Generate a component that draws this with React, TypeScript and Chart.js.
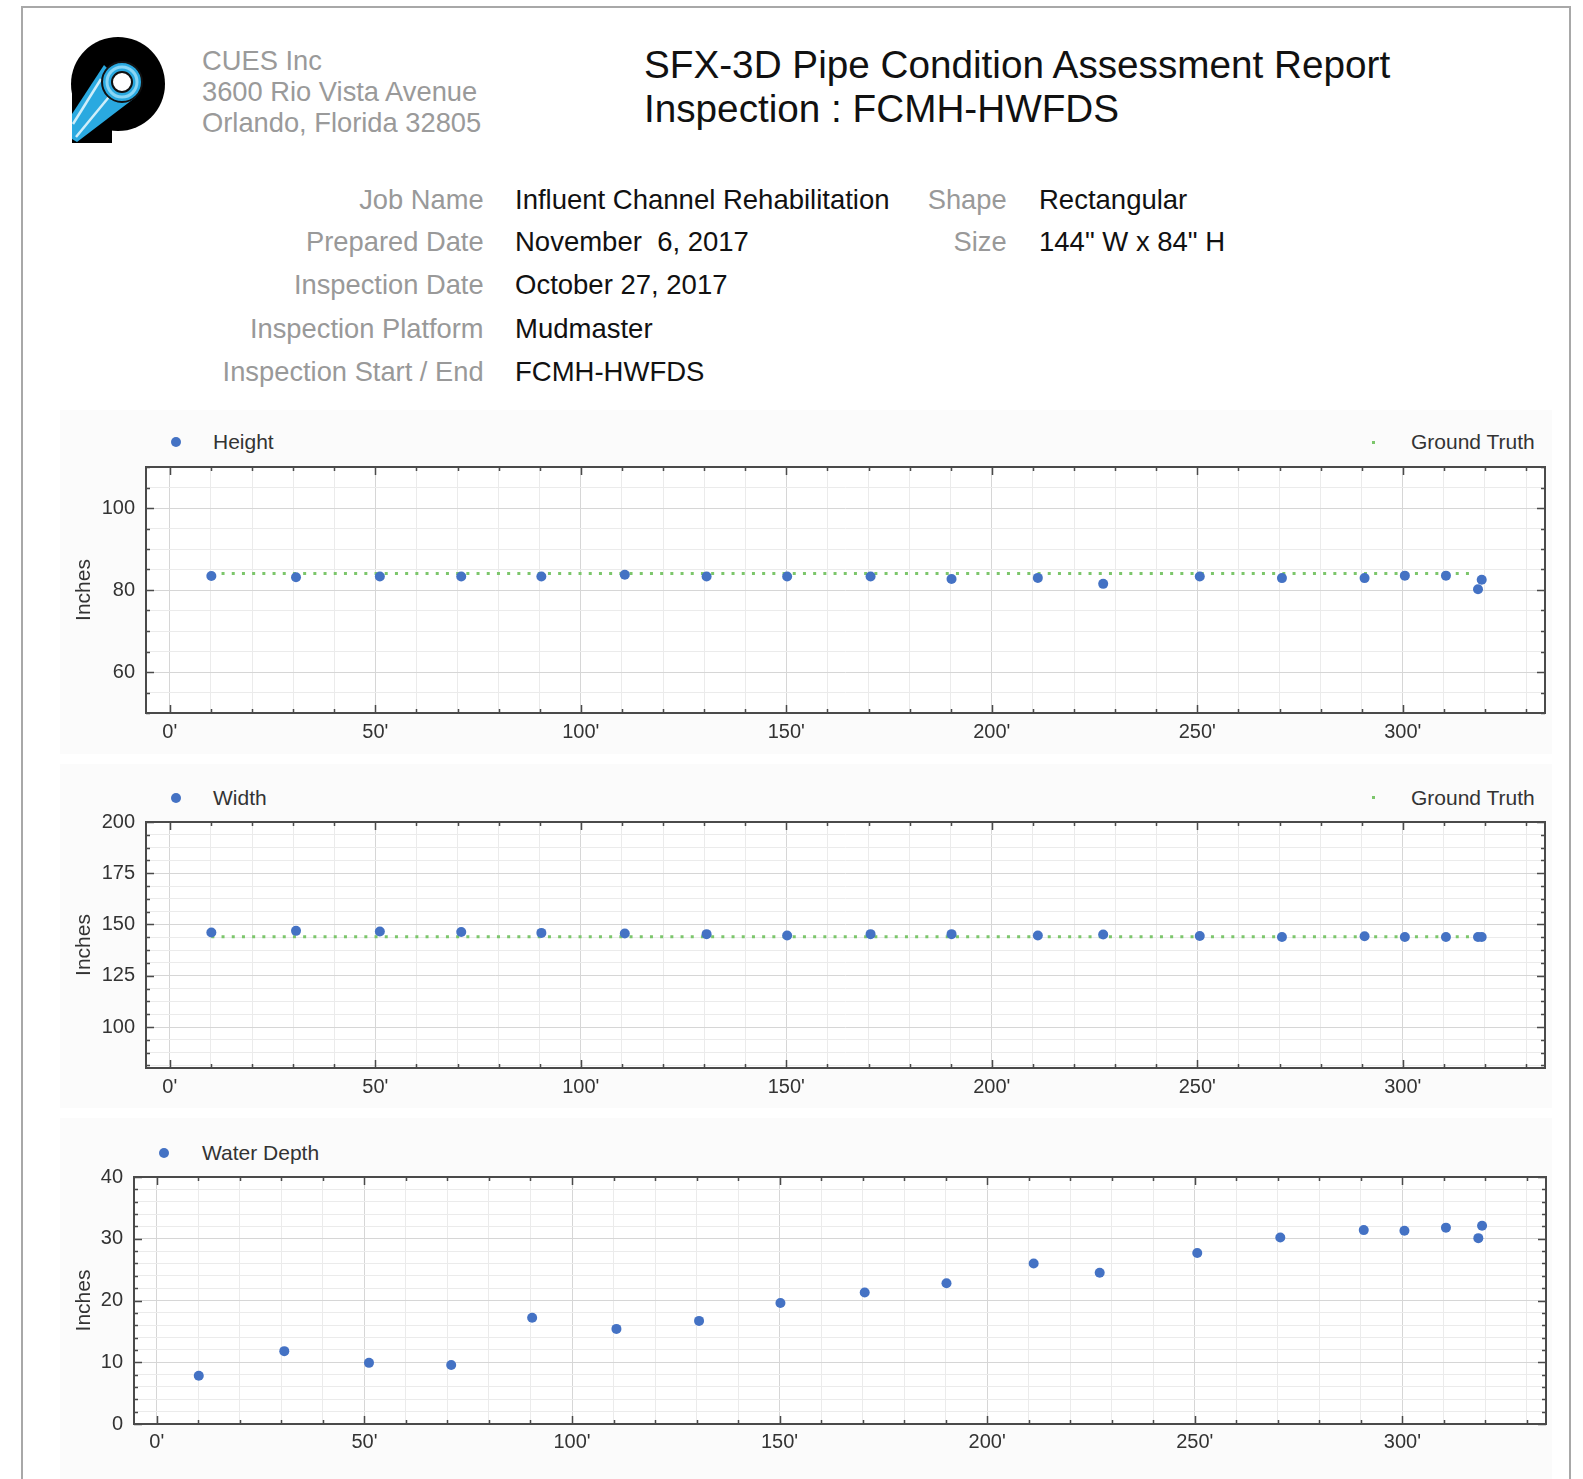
import React, { useEffect, useRef } from 'react';
import { Chart, registerables } from 'chart.js';

Chart.register(...registerables);

// ---------- Data ----------
const DISTANCE_FT = [10.1, 30.7, 51.1, 70.9, 90.4, 110.7, 130.6, 150.2, 170.5, 190.2, 211.2, 227.1, 250.6, 270.6, 290.7, 300.5, 310.5, 318.3, 319.2];
const HEIGHT_IN = [83.4, 83.1, 83.3, 83.3, 83.3, 83.7, 83.3, 83.3, 83.3, 82.7, 82.95, 81.5, 83.3, 82.9, 82.9, 83.5, 83.5, 80.2, 82.5];
const WIDTH_IN = [146.1, 146.9, 146.6, 146.3, 145.9, 145.6, 145.3, 144.6, 145.3, 145.3, 144.6, 145.1, 144.4, 143.9, 144.3, 143.9, 143.9, 143.9, 143.9];
const WATER_DEPTH_IN = [7.8, 11.8, 9.9, 9.55, 17.2, 15.4, 16.7, 19.6, 21.3, 22.8, 26.0, 24.5, 27.7, 30.2, 31.4, 31.3, 31.8, 30.1, 32.1];
const GROUND_TRUTH_HEIGHT_IN = 84;
const GROUND_TRUTH_WIDTH_IN = 144;
const GROUND_TRUTH_SPAN_FT = [10.1, 317];

const INFO_LEFT_LABELS = ['Job Name', 'Prepared Date', 'Inspection Date', 'Inspection Platform', 'Inspection Start / End'];
const INFO_LEFT_VALUES = ['Influent Channel Rehabilitation', 'November  6, 2017', 'October 27, 2017', 'Mudmaster', 'FCMH-HWFDS'];
const INFO_RIGHT_LABELS = ['Shape', 'Size'];
const INFO_RIGHT_VALUES = ['Rectangular', '144" W x 84" H'];
const COMPANY_LINES = ['CUES Inc', '3600 Rio Vista Avenue', 'Orlando, Florida 32805'];
const TITLE_LINES = ['SFX-3D Pipe Condition Assessment Report', 'Inspection : FCMH-HWFDS'];

const FONT = '"Liberation Sans", Arial, Helvetica, sans-serif';
const BLUE = '#4472c4';
const GREEN = '#7cc66b';

Chart.defaults.font.family = FONT;

const framePlugin = {
  id: 'frameTicks',
  beforeDraw(chart: any) {
    const { ctx, chartArea: a } = chart;
    ctx.save();
    ctx.fillStyle = '#ffffff';
    ctx.fillRect(a.left, a.top, a.right - a.left, a.bottom - a.top);
    ctx.restore();
  },
  afterDraw(chart: any) {
    const { ctx, chartArea: a, scales } = chart;
    const xs = scales.x;
    const ys = scales.y;
    ctx.save();
    ctx.strokeStyle = '#4a4a4a';
    ctx.lineWidth = 1.5;
    ctx.beginPath();
    xs.ticks.forEach((t: any) => {
      const px = Math.round(xs.getPixelForValue(t.value)) + 0.5;
      const len = t.label ? 8 : 4;
      ctx.moveTo(px, a.bottom);
      ctx.lineTo(px, a.bottom - len);
      ctx.moveTo(px, a.top);
      ctx.lineTo(px, a.top + len);
    });
    ys.ticks.forEach((t: any) => {
      const py = Math.round(ys.getPixelForValue(t.value)) + 0.5;
      const len = t.label ? 8 : 4;
      ctx.moveTo(a.left, py);
      ctx.lineTo(a.left + len, py);
      ctx.moveTo(a.right, py);
      ctx.lineTo(a.right - len, py);
    });
    ctx.stroke();
    ctx.lineWidth = 2;
    ctx.strokeRect(a.left, a.top, a.right - a.left, a.bottom - a.top);
    ctx.restore();
  },
};

type PanelProps = {
  left: number;
  top: number;
  width: number;
  height: number;
  yAxisWidth: number;
  padTop: number;
  padRight: number;
  xAxisHeight: number;
  xMin: number;
  xMax: number;
  yMin: number;
  yMax: number;
  yStep: number;
  yMajor: number;
  xLabelPad: number;
  values: number[];
  groundTruth?: number;
};

function ChartPanel(p: PanelProps) {
  const ref = useRef<HTMLCanvasElement | null>(null);
  useEffect(() => {
    if (!ref.current) return;
    const datasets: any[] = [
      {
        label: 'measured',
        data: DISTANCE_FT.map((x, i) => ({ x, y: p.values[i] })),
        backgroundColor: BLUE,
        borderColor: BLUE,
        pointRadius: 5,
        pointBorderWidth: 0,
        showLine: false,
      },
    ];
    if (p.groundTruth !== undefined) {
      datasets.push({
        label: 'Ground Truth',
        data: GROUND_TRUTH_SPAN_FT.map((x) => ({ x, y: p.groundTruth })),
        showLine: true,
        borderColor: GREEN,
        borderWidth: 3,
        borderDash: [3, 7.2],
        borderCapStyle: 'butt',
        pointRadius: 0,
        fill: false,
      });
    }
    const chart = new Chart(ref.current, {
      type: 'scatter',
      data: { datasets },
      options: {
        animation: false,
        responsive: false,
        events: [],
        layout: { padding: { top: p.padTop, right: p.padRight, left: 0, bottom: 0 } },
        plugins: { legend: { display: false }, tooltip: { enabled: false } },
        scales: {
          x: {
            type: 'linear',
            min: p.xMin,
            max: p.xMax,
            afterFit: (s: any) => {
              s.height = p.xAxisHeight;
            },
            border: { display: false },
            grid: {
              drawTicks: false,
              color: (c: any) => (c.tick && c.tick.label ? '#d6d6d6' : '#ebebeb'),
              lineWidth: 1,
            },
            ticks: {
              stepSize: 10,
              includeBounds: false,
              autoSkip: false,
              maxRotation: 0,
              minRotation: 0,
              padding: p.xLabelPad,
              color: '#333',
              font: { size: 20 },
              callback: (v: any) => (Math.round(Number(v)) % 50 === 0 ? `${Math.round(Number(v))}'` : ''),
            },
          },
          y: {
            type: 'linear',
            min: p.yMin,
            max: p.yMax,
            afterFit: (s: any) => {
              s.width = p.yAxisWidth;
            },
            border: { display: false },
            grid: {
              drawTicks: false,
              color: (c: any) => (c.tick && c.tick.label ? '#d6d6d6' : '#ebebeb'),
              lineWidth: 1,
            },
            title: {
              display: true,
              text: 'Inches',
              color: '#333',
              font: { size: 21 },
              padding: { top: 12, bottom: 0 },
            },
            ticks: {
              stepSize: p.yStep,
              includeBounds: false,
              autoSkip: false,
              padding: 11,
              color: '#333',
              font: { size: 20 },
              callback: (v: any) => {
                const n = Number(v);
                return Math.abs(n / p.yMajor - Math.round(n / p.yMajor)) < 1e-6 ? String(Math.round(n)) : '';
              },
            },
          },
        },
      },
      plugins: [framePlugin],
    } as any);
    return () => chart.destroy();
  }, []);
  return (
    <canvas
      ref={ref}
      width={p.width}
      height={p.height}
      style={{ position: 'absolute', left: p.left, top: p.top, width: p.width, height: p.height }}
    />
  );
}

function Legend({ y, dotX, textX, label }: { y: number; dotX: number; textX: number; label: string }) {
  return (
    <>
      <div
        style={{
          position: 'absolute',
          left: dotX - 5,
          top: y - 5,
          width: 10,
          height: 10,
          borderRadius: 5,
          background: BLUE,
        }}
      />
      <div style={{ position: 'absolute', left: textX, top: y - 13, lineHeight: '26px', fontSize: 21, color: '#333', fontFamily: FONT, whiteSpace: 'nowrap' }}>
        {label}
      </div>
    </>
  );
}

function GTLegend({ y }: { y: number }) {
  return (
    <>
      <div style={{ position: 'absolute', left: 1371.5, top: y - 1.5, width: 3, height: 3, background: GREEN }} />
      <div style={{ position: 'absolute', left: 1411, top: y - 13, lineHeight: '26px', fontSize: 21, color: '#333', fontFamily: FONT, whiteSpace: 'nowrap' }}>
        Ground Truth
      </div>
    </>
  );
}

function Logo() {
  return (
    <svg width={200} height={160} style={{ position: 'absolute', left: 0, top: 0 }}>
      <circle cx={118} cy={84} r={47} fill="#000" />
      <rect x={72} y={84} width={40} height={59} fill="#000" />
      <polygon points="104,65 72,114 72,139 77,142 136,97" fill="#2aa9e0" />
      <line x1={101} y1={79} x2={73} y2={124} stroke="#cfeefa" strokeWidth={2.5} />
      <line x1={113} y1={92} x2={76} y2={137} stroke="#cfeefa" strokeWidth={2.5} />
      <circle cx={122} cy={82} r={20} fill="#2aa9e0" stroke="#111" strokeWidth={2} />
      <circle cx={122} cy={82} r={15} fill="none" stroke="#8ad6f5" strokeWidth={3} />
      <circle cx={122} cy={82} r={10} fill="#fff" stroke="#111" strokeWidth={2} />
    </svg>
  );
}

export default function App() {
  useEffect(() => {
    document.body.style.overflow = 'hidden';
  }, []);
  const abs = (s: React.CSSProperties): React.CSSProperties => ({ position: 'absolute', fontFamily: FONT, whiteSpace: 'nowrap', ...s });
  const infoRows = [200, 242.3, 284.7, 329.1, 371.5];
  return (
    <div style={{ position: 'absolute', left: 0, top: 0, width: 1583, height: 1479, overflow: 'hidden', background: '#fff' }}>
      <div
        style={{
          position: 'absolute',
          left: 21,
          top: 6,
          width: 1550,
          height: 1480,
          boxSizing: 'border-box',
          borderLeft: '2px solid #a8a8a8',
          borderTop: '2px solid #a8a8a8',
          borderRight: '2px solid #a8a8a8',
        }}
      />
      <Logo />
      {COMPANY_LINES.map((t, i) => (
        <div key={t} style={abs({ left: 202, top: [60.6, 91.9, 123.2][i] - 16, lineHeight: '32px', fontSize: 27.3, color: '#9a9a9a' })}>
          {t}
        </div>
      ))}
      {TITLE_LINES.map((t, i) => (
        <div key={t} style={abs({ left: 644, top: [64.6, 109][i] - 22, lineHeight: '44px', fontSize: 38.7, color: '#111' })}>
          {t}
        </div>
      ))}
      {INFO_LEFT_LABELS.map((t, i) => (
        <div key={t} style={abs({ right: 1583 - 483.6, top: infoRows[i] - 16, lineHeight: '32px', fontSize: 27.3, color: '#999' })}>
          {t}
        </div>
      ))}
      {INFO_LEFT_VALUES.map((t, i) => (
        <div key={t} style={abs({ left: 515, top: infoRows[i] - 16, lineHeight: '32px', fontSize: 27.5, color: '#111', whiteSpace: 'pre' })}>
          {t}
        </div>
      ))}
      {INFO_RIGHT_LABELS.map((t, i) => (
        <div key={t} style={abs({ right: 1583 - 1006.6, top: infoRows[i] - 16, lineHeight: '32px', fontSize: 27.3, color: '#999' })}>
          {t}
        </div>
      ))}
      {INFO_RIGHT_VALUES.map((t, i) => (
        <div key={t} style={abs({ left: 1039, top: infoRows[i] - 16, lineHeight: '32px', fontSize: 27.5, color: '#111' })}>
          {t}
        </div>
      ))}

      <div style={{ position: 'absolute', left: 60, top: 410, width: 1492, height: 344, background: '#fbfbfb' }} />
      <div style={{ position: 'absolute', left: 60, top: 764, width: 1492, height: 344, background: '#fbfbfb' }} />
      <div style={{ position: 'absolute', left: 60, top: 1118, width: 1492, height: 361, background: '#fbfbfb' }} />

      <Legend y={442} dotX={175.7} textX={213} label="Height" />
      <GTLegend y={442} />
      <ChartPanel
        left={60}
        top={443}
        width={1500}
        height={310}
        yAxisWidth={86}
        padTop={24}
        padRight={15}
        xAxisHeight={40}
        xMin={-5.8}
        xMax={334.6}
        yMin={50}
        yMax={110}
        yStep={5}
        yMajor={20}
        xLabelPad={7}
        values={HEIGHT_IN}
        groundTruth={GROUND_TRUTH_HEIGHT_IN}
      />

      <Legend y={797.6} dotX={175.7} textX={213} label="Width" />
      <GTLegend y={797.6} />
      <ChartPanel
        left={60}
        top={798}
        width={1500}
        height={310}
        yAxisWidth={86}
        padTop={24}
        padRight={15}
        xAxisHeight={40}
        xMin={-5.8}
        xMax={334.6}
        yMin={80}
        yMax={200}
        yStep={6.25}
        yMajor={25}
        xLabelPad={7}
        values={WIDTH_IN}
        groundTruth={GROUND_TRUTH_WIDTH_IN}
      />

      <Legend y={1153} dotX={163.6} textX={202} label="Water Depth" />
      <ChartPanel
        left={60}
        top={1153}
        width={1500}
        height={311}
        yAxisWidth={74}
        padTop={24}
        padRight={14}
        xAxisHeight={40}
        xMin={-5.5}
        xMax={334.6}
        yMin={0}
        yMax={40}
        yStep={2}
        yMajor={10}
        xLabelPad={6}
        values={WATER_DEPTH_IN}
      />
    </div>
  );
}
